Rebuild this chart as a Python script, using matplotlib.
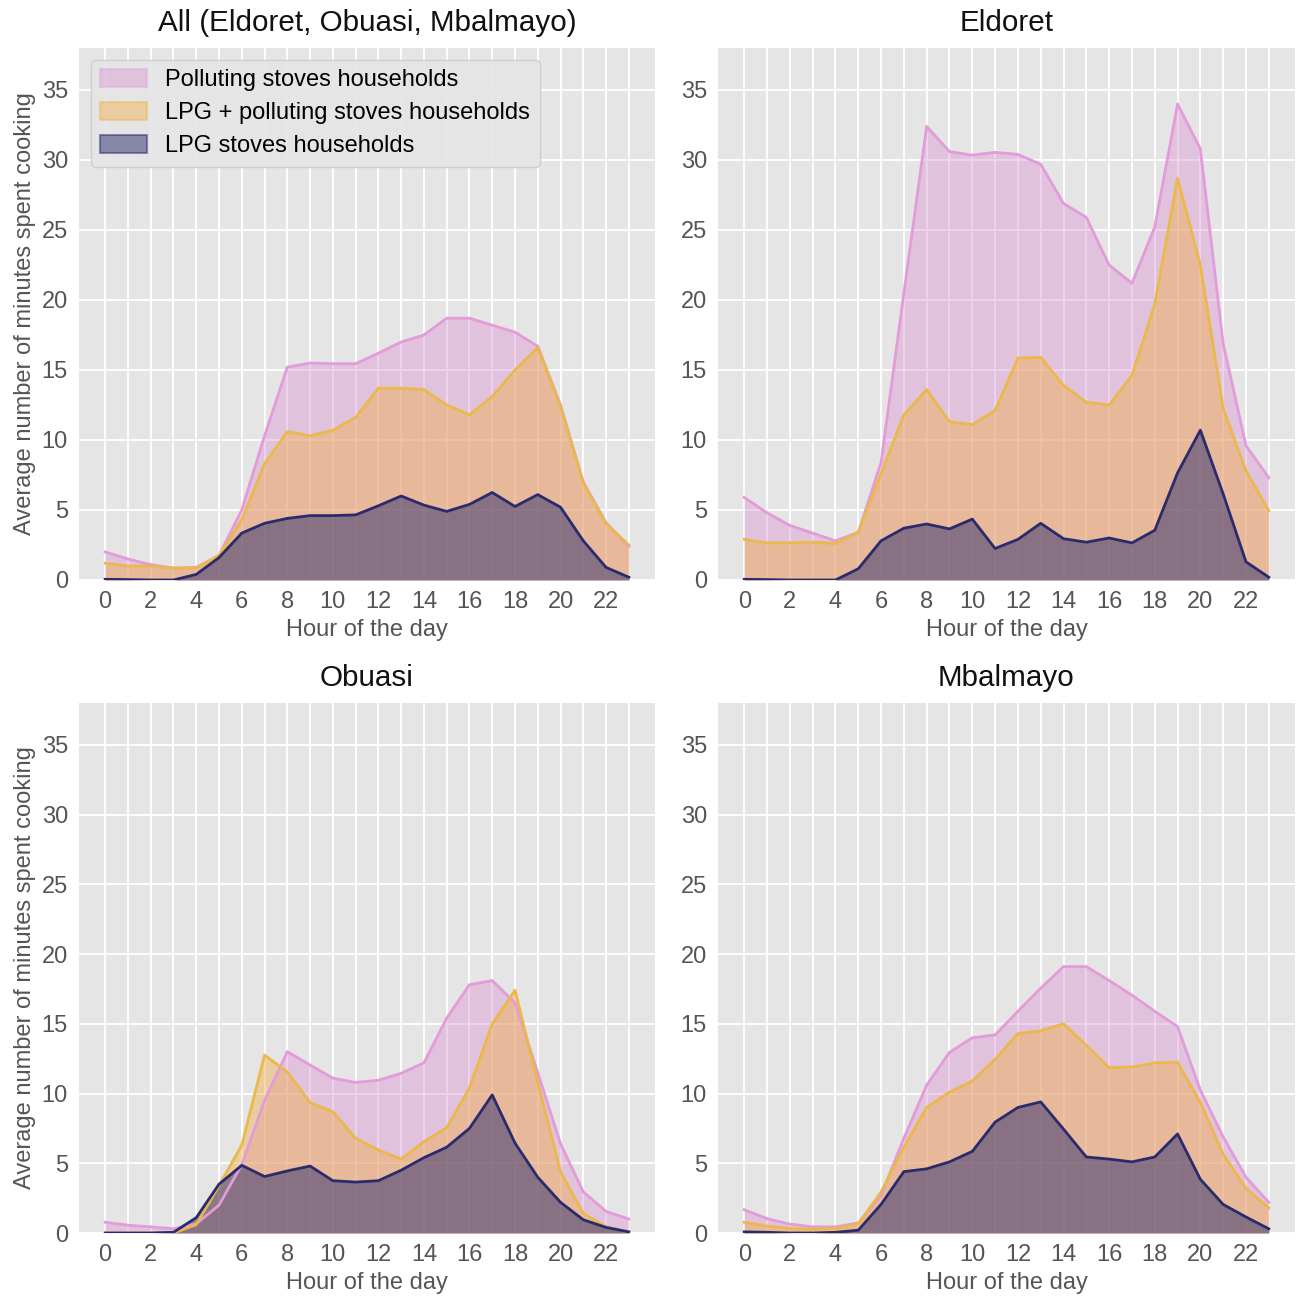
import matplotlib
matplotlib.use("Agg")
import matplotlib.pyplot as plt
from matplotlib.patches import Patch
from matplotlib.ticker import MultipleLocator, FixedLocator
import numpy as np

hours = list(range(24))
hour_ticks = list(range(0, 23, 2))

titles = ["All (Eldoret, Obuasi, Mbalmayo)", "Eldoret", "Obuasi", "Mbalmayo"]
series_labels = ["Polluting stoves households",
                 "LPG + polluting stoves households",
                 "LPG stoves households"]

all_polluting = [2.0, 1.5, 1.1, 0.85, 0.9, 1.75, 5.0, 10.3, 15.2, 15.5, 15.45, 15.45,
                 16.2, 17.0, 17.5, 18.7, 18.7, 18.2, 17.7, 16.7, 12.5, 7.0, 4.1, 2.4]
all_mixed = [1.2, 1.0, 1.0, 0.85, 0.85, 1.75, 4.3, 8.3, 10.6, 10.3, 10.7, 11.6,
             13.7, 13.7, 13.6, 12.5, 11.8, 13.1, 15.0, 16.6, 12.4, 6.9, 4.0, 2.5]
all_lpg = [0.05, 0.03, 0.0, 0.0, 0.4, 1.6, 3.35, 4.05, 4.4, 4.6, 4.6, 4.65,
           5.3, 6.0, 5.35, 4.9, 5.4, 6.25, 5.25, 6.1, 5.2, 2.8, 0.9, 0.2]

eld_polluting = [5.9, 4.8, 3.9, 3.35, 2.8, 3.4, 8.4, 20.5, 32.4, 30.6, 30.35, 30.55,
                 30.4, 29.7, 26.9, 25.9, 22.5, 21.2, 25.2, 34.0, 30.8, 16.9, 9.6, 7.3]
eld_mixed = [2.9, 2.65, 2.65, 2.7, 2.6, 3.4, 7.6, 11.8, 13.6, 11.3, 11.1, 12.1,
             15.85, 15.9, 13.9, 12.7, 12.5, 14.6, 19.7, 28.7, 22.5, 12.25, 7.8, 4.95]
eld_lpg = [0.05, 0.03, 0.0, 0.0, 0.0, 0.8, 2.8, 3.7, 4.0, 3.65, 4.35, 2.25,
           2.9, 4.05, 2.95, 2.7, 3.0, 2.65, 3.55, 7.65, 10.7, 6.15, 1.3, 0.2]

obu_polluting = [0.77, 0.56, 0.44, 0.3, 0.65, 2.0, 4.9, 9.5, 13.0, 12.05, 11.1, 10.8,
                 10.95, 11.45, 12.2, 15.4, 17.8, 18.1, 16.5, 11.5, 6.4, 2.95, 1.55, 1.0]
obu_mixed = [0.0, 0.0, 0.0, 0.0, 0.6, 3.4, 6.3, 12.75, 11.55, 9.35, 8.7, 6.8,
             5.95, 5.3, 6.55, 7.55, 10.4, 15.0, 17.4, 10.8, 4.4, 1.4, 0.45, 0.08]
obu_lpg = [0.0, 0.0, 0.0, 0.05, 1.1, 3.5, 4.85, 4.05, 4.45, 4.8, 3.75, 3.65,
           3.75, 4.5, 5.4, 6.15, 7.5, 9.9, 6.45, 4.0, 2.2, 0.95, 0.4, 0.08]

mba_polluting = [1.67, 1.03, 0.64, 0.44, 0.44, 0.72, 2.7, 6.8, 10.6, 12.95, 14.0, 14.2,
                 15.9, 17.55, 19.1, 19.1, 18.1, 17.05, 15.9, 14.8, 10.25, 6.9, 4.0, 2.2]
mba_mixed = [0.77, 0.5, 0.33, 0.26, 0.33, 0.64, 2.95, 6.15, 9.0, 10.1, 10.9, 12.45,
             14.3, 14.5, 15.0, 13.45, 11.85, 11.9, 12.2, 12.25, 9.35, 5.65, 3.2, 1.8]
mba_lpg = [0.08, 0.05, 0.0, 0.0, 0.05, 0.2, 2.05, 4.4, 4.6, 5.1, 5.85, 7.95,
           9.0, 9.4, 7.45, 5.45, 5.3, 5.1, 5.45, 7.1, 3.85, 2.05, 1.15, 0.3]

panels = [
    (all_polluting, all_mixed, all_lpg),
    (eld_polluting, eld_mixed, eld_lpg),
    (obu_polluting, obu_mixed, obu_lpg),
    (mba_polluting, mba_mixed, mba_lpg),
]

line_colors = ["#E39BDA", "#EBB84A", "#2A2B6C"]
fill_colors = ["#D98BD0", "#F0AE4A", "#2A2B6C"]
fill_alphas = [0.38, 0.45, 0.5]

plt.rcParams['font.family'] = ['Liberation Sans', 'DejaVu Sans']

W, H = 1298, 1297
fig = plt.figure(figsize=(W / 100, H / 100), dpi=100)

boxes = [
    (79, 48, 655, 580),
    (718, 48, 1295, 580),
    (79, 703, 655, 1233),
    (718, 703, 1295, 1233),
]

for i, ((l, t, r, b), title, data) in enumerate(zip(boxes, titles, panels)):
    ax = fig.add_axes([l / W, 1 - b / H, (r - l) / W, (b - t) / H])
    ax.set_facecolor("#E5E5E5")
    for s in ax.spines.values():
        s.set_visible(False)
    x = np.array(hours)
    for k, y in enumerate(data):
        ax.fill_between(x, 0, y, color=fill_colors[k], alpha=fill_alphas[k], linewidth=0)
        ax.plot(x, y, color=line_colors[k], linewidth=2.0)
    ax.set_xlim(-1.15, 24.15)
    ax.set_ylim(0, 38)
    ax.xaxis.set_major_locator(FixedLocator(hour_ticks))
    ax.xaxis.set_minor_locator(FixedLocator(hours))
    ax.yaxis.set_major_locator(MultipleLocator(5))
    ax.grid(True, which="both", axis="x", color="white", linewidth=1.3)
    ax.grid(True, which="major", axis="y", color="white", linewidth=1.3)
    ax.set_axisbelow(True)
    ax.tick_params(axis="both", which="both", length=0, labelsize=17,
                   labelcolor="#555555", pad=8)
    ax.set_title(title, fontsize=21.3, color="#111111", pad=12)
    ax.set_xlabel("Hour of the day", fontsize=17, color="#555555", labelpad=4)
    if i % 2 == 0:
        ax.set_ylabel("Average number of minutes spent cooking", fontsize=17,
                      color="#555555", labelpad=4)
    if i == 0:
        handles = [Patch(facecolor=fill_colors[k], alpha=fill_alphas[k],
                         edgecolor=line_colors[k], linewidth=1.5)
                   for k in range(3)]
        leg = ax.legend(handles, series_labels, loc="upper left", fontsize=17,
                        frameon=True, facecolor="#E5E5E5", edgecolor="#CCCCCC",
                        framealpha=0.9, handlelength=2.0, handleheight=0.8,
                        borderpad=0.4, labelspacing=0.45, handletextpad=0.75)

fig.savefig("out.png", dpi=100)
